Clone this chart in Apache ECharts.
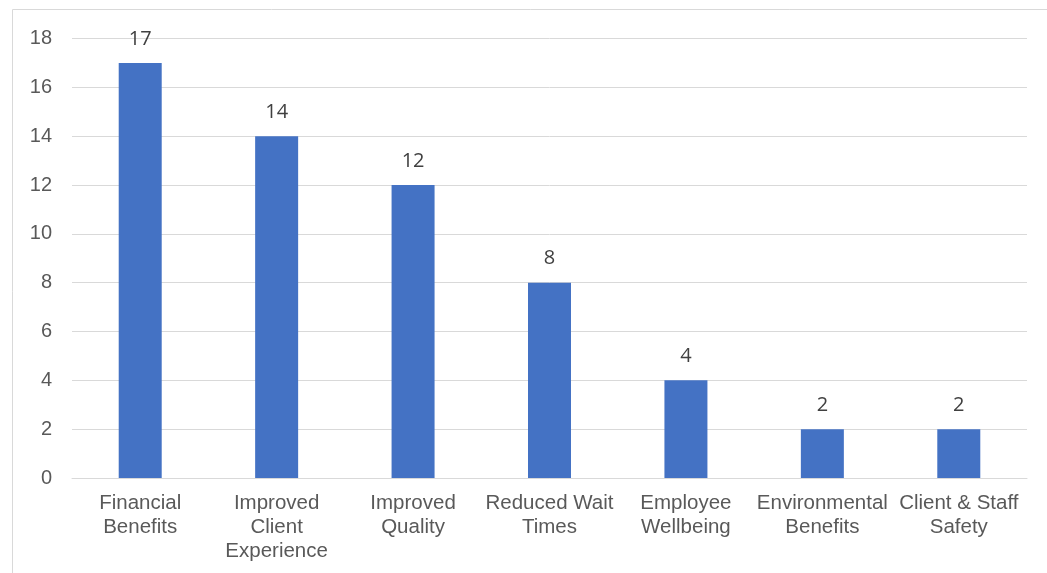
<!DOCTYPE html>
<html><head><meta charset="utf-8">
<script src="https://cdn.jsdelivr.net/npm/echarts@6/dist/echarts.min.js"></script>
<style>html,body{margin:0;padding:0;background:#fff}#c{width:1047px;height:573px}</style>
</head><body><div id="c"></div>
<script>
const categories = ["Financial\nBenefits","Improved\nClient\nExperience","Improved\nQuality","Reduced Wait\nTimes","Employee\nWellbeing","Environmental\nBenefits","Client & Staff\nSafety"];
const values = [17,14,12,8,4,2,2];
const yTicks = {min:0,max:18,interval:2};

const chart = echarts.init(document.getElementById('c'));
chart.setOption({
  animation:false,
  graphic:[{type:'rect',shape:{x:12.5,y:9.5,width:1100,height:700},style:{fill:'none',stroke:'#d9d9d9',lineWidth:1},silent:true}],
  grid:{left:72,right:20,top:38.5,bottom:95,containLabel:false},
  xAxis:{type:'category',data:categories,
    axisLine:{lineStyle:{color:'#d9d9d9',width:1}},axisTick:{show:false},
    axisLabel:{color:'#595959',fontFamily:'Liberation Sans, Arial',fontSize:20.5,lineHeight:24,margin:13,interval:0}},
  yAxis:{type:'value',min:yTicks.min,max:yTicks.max,interval:yTicks.interval,
    axisLine:{show:false},axisTick:{show:false},
    splitLine:{lineStyle:{color:'#d9d9d9',width:1}},
    axisLabel:{color:'#595959',fontFamily:'Liberation Sans, Arial',fontSize:20,margin:20}},
  series:[{type:'bar',data:values,barWidth:43,itemStyle:{color:'#4472C4'},
    label:{show:true,position:'top',distance:14,color:'#404040',fontFamily:'Open Sans, Noto Sans',fontSize:20}}]
});
</script></body></html>
